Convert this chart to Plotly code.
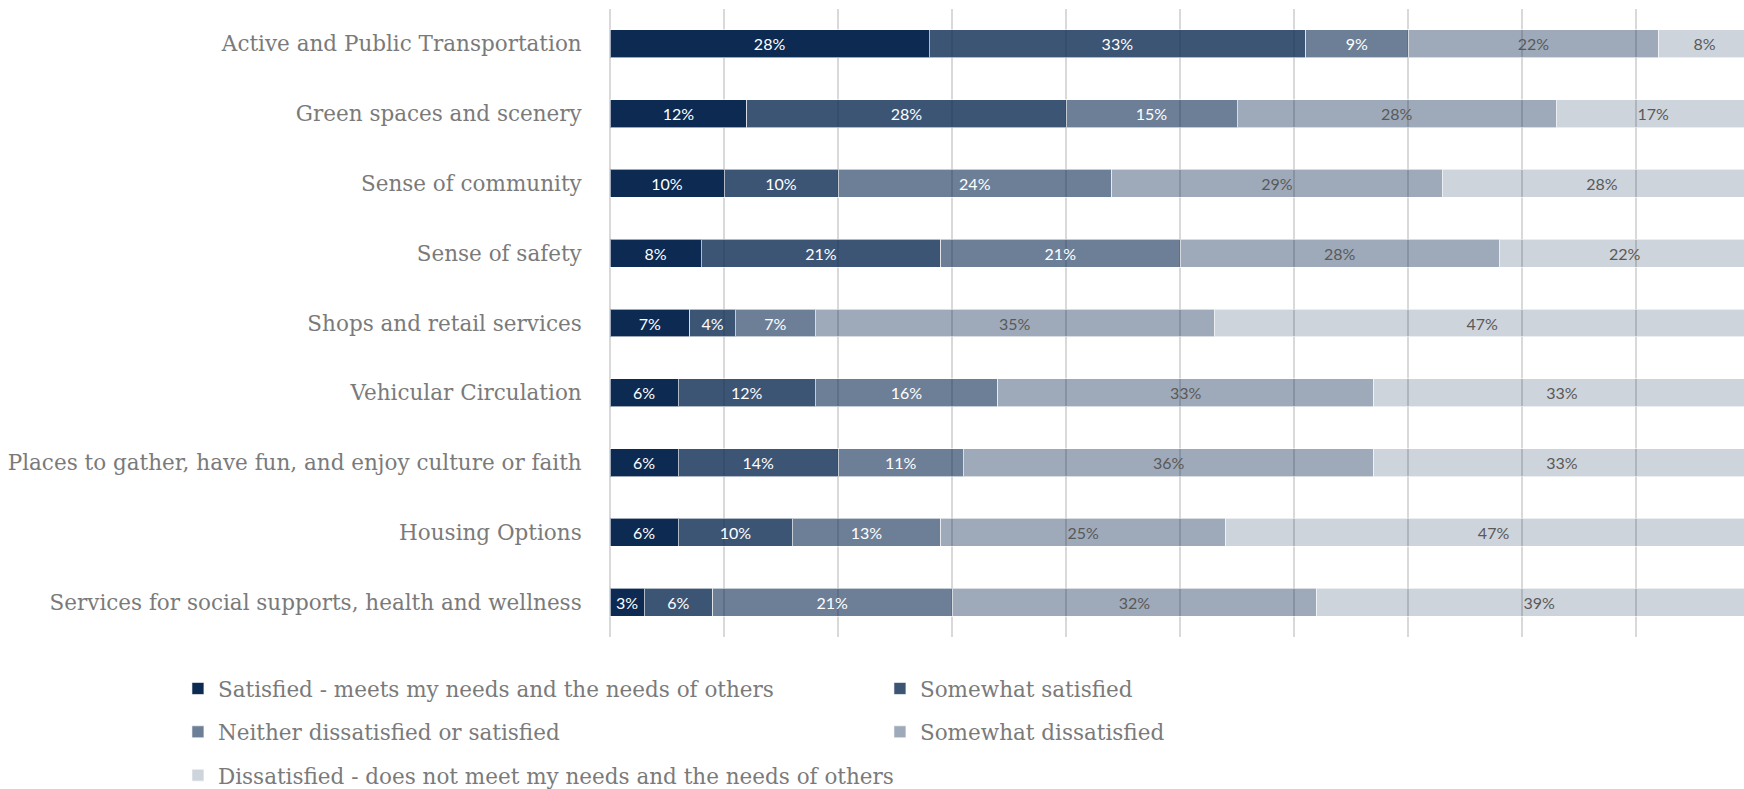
import plotly.graph_objects as go

# Survey categories (top to bottom)
categories = [
    "Active and Public Transportation",
    "Green spaces and scenery",
    "Sense of community",
    "Sense of safety",
    "Shops and retail services",
    "Vehicular Circulation",
    "Places to gather, have fun, and enjoy culture or faith",
    "Housing Options",
    "Services for social supports, health and wellness",
]

series_names = [
    "Satisfied - meets my needs and the needs of others",
    "Somewhat satisfied",
    "Neither dissatisfied or satisfied",
    "Somewhat dissatisfied",
    "Dissatisfied - does not meet my needs and the needs of others",
]

# Percent of respondents per category
satisfied = [28, 12, 10, 8, 7, 6, 6, 6, 3]
somewhat_satisfied = [33, 28, 10, 21, 4, 12, 14, 10, 6]
neither = [9, 15, 24, 21, 7, 16, 11, 13, 21]
somewhat_dissatisfied = [22, 28, 29, 28, 35, 33, 36, 25, 32]
dissatisfied = [8, 17, 28, 22, 47, 33, 33, 47, 39]

series_values = [satisfied, somewhat_satisfied, neither, somewhat_dissatisfied, dissatisfied]

# One navy hue, faded per response level
navy = (12, 42, 82)
alphas = [1.0, 0.8, 0.6, 0.4, 0.2]
label_colors = ["white", "white", "white", "#595959", "#595959"]
legend_ids = ["legend", "legend", "legend2", "legend2", "legend3"]

serif = "DejaVu Serif"
label_font = "Lato"
text_gray = "#7a7a7a"
serif_size = 21.5

fig = go.Figure()
for name, vals, a, lc, lg in zip(series_names, series_values, alphas, label_colors, legend_ids):
    fig.add_trace(go.Bar(
        y=categories,
        x=vals,
        name=name,
        orientation="h",
        width=0.4,
        marker=dict(
            color=f"rgba({navy[0]},{navy[1]},{navy[2]},{a})",
            line=dict(color="rgba(255,255,255,0.6)", width=1),
        ),
        texttemplate="%{x}%",
        textposition="inside",
        insidetextanchor="middle",
        textangle=0,
        textfont=dict(family=label_font, size=16, color=lc),
        legend=lg,
        hoverinfo="skip",
    ))

# Three legend rows, two entries per row in fixed-width columns
legend_common = dict(
    orientation="h",
    xanchor="left",
    yanchor="middle",
    x=-0.381,
    font=dict(family=serif, size=serif_size, color=text_gray),
    bgcolor="rgba(0,0,0,0)",
    traceorder="normal",
)
column_width = dict(entrywidth=657, entrywidthmode="pixels")

fig.update_layout(
    width=1744,
    height=789,
    barmode="stack",
    plot_bgcolor="white",
    paper_bgcolor="white",
    margin=dict(l=610, r=0, t=9, b=152, pad=0, autoexpand=False),
    uniformtext=dict(mode="show", minsize=16),
    xaxis=dict(
        range=[0, 99.46],
        tick0=0,
        dtick=10,
        showgrid=True,
        gridcolor="#d9d9d9",
        gridwidth=1.5,
        zeroline=True,
        zerolinecolor="#d9d9d9",
        zerolinewidth=1.5,
        showticklabels=False,
        showline=False,
        fixedrange=True,
    ),
    yaxis=dict(
        categoryorder="array",
        categoryarray=categories,
        autorange="reversed",
        showgrid=False,
        zeroline=False,
        showline=False,
        ticks="outside",
        ticklen=23,
        tickcolor="rgba(0,0,0,0)",
        tickfont=dict(family=serif, size=serif_size, color=text_gray),
        fixedrange=True,
    ),
    showlegend=True,
    legend=dict(legend_common, **column_width, y=-0.082),
    legend2=dict(legend_common, **column_width, y=-0.151),
    legend3=dict(legend_common, y=-0.220),
)

fig.write_html("out.html")
